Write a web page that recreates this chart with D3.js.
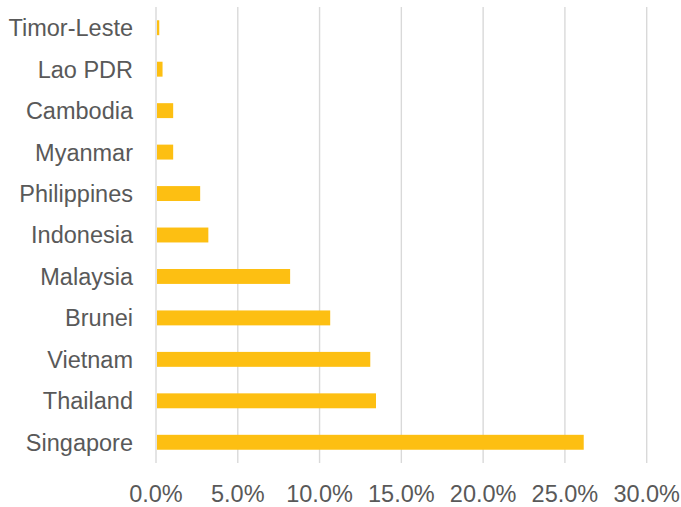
<!DOCTYPE html>
<html>
<head>
<meta charset="utf-8">
<script src="https://cdn.jsdelivr.net/npm/d3@7"></script>
<style>
  html, body { margin: 0; padding: 0; background: #fff; }
  svg { display: block; }
  text { font-family: "Liberation Sans", Arial, Helvetica, sans-serif; fill: #595959; }
</style>
</head>
<body>
<svg id="chart" width="681" height="507"></svg>
<script>
// Countries, top to bottom
const countries = ["Timor-Leste", "Lao PDR", "Cambodia", "Myanmar", "Philippines",
  "Indonesia", "Malaysia", "Brunei", "Vietnam", "Thailand", "Singapore"];
// Share, in percent
const shares = [0.2, 0.4, 1.05, 1.05, 2.7, 3.2, 8.2, 10.65, 13.1, 13.45, 26.15];
// Axis ticks, in percent
const tickValues = [0, 5, 10, 15, 20, 25, 30];

const svg = d3.select("#chart");
const plotLeft = 156, plotRight = 646.7, plotTop = 7, plotBottom = 463;

const x = d3.scaleLinear().domain([0, 30]).range([plotLeft, plotRight]);
const y = d3.scaleBand().domain(countries).range([plotTop, plotBottom]).paddingInner(0.64).paddingOuter(0.32);

// vertical gridlines
svg.append("g").selectAll("line")
  .data(tickValues)
  .join("line")
  .attr("x1", d => x(d)).attr("x2", d => x(d))
  .attr("y1", plotTop).attr("y2", plotBottom)
  .attr("stroke", "#d9d9d9")
  .attr("stroke-width", 1.4);

// bars
svg.append("g").selectAll("rect")
  .data(countries.map((c, i) => ({ c, v: shares[i] })))
  .join("rect")
  .attr("x", x(0) + 1)
  .attr("y", d => y(d.c))
  .attr("width", d => Math.max(0, x(d.v) - x(0) - 1))
  .attr("height", y.bandwidth())
  .attr("fill", "#fdbf12");

// category labels
svg.append("g").selectAll("text")
  .data(countries)
  .join("text")
  .attr("x", 133)
  .attr("y", d => y(d) + y.bandwidth() / 2)
  .attr("dy", "0.36em")
  .attr("text-anchor", "end")
  .attr("font-size", 23.5)
  .text(d => d);

// x-axis tick labels
const fmt = d3.format(".1f");
svg.append("g").selectAll("text")
  .data(tickValues)
  .join("text")
  .attr("x", d => x(d))
  .attr("y", 501.5)
  .attr("text-anchor", "middle")
  .attr("font-size", 23.5)
  .text(d => fmt(d) + "%");
</script>
</body>
</html>
